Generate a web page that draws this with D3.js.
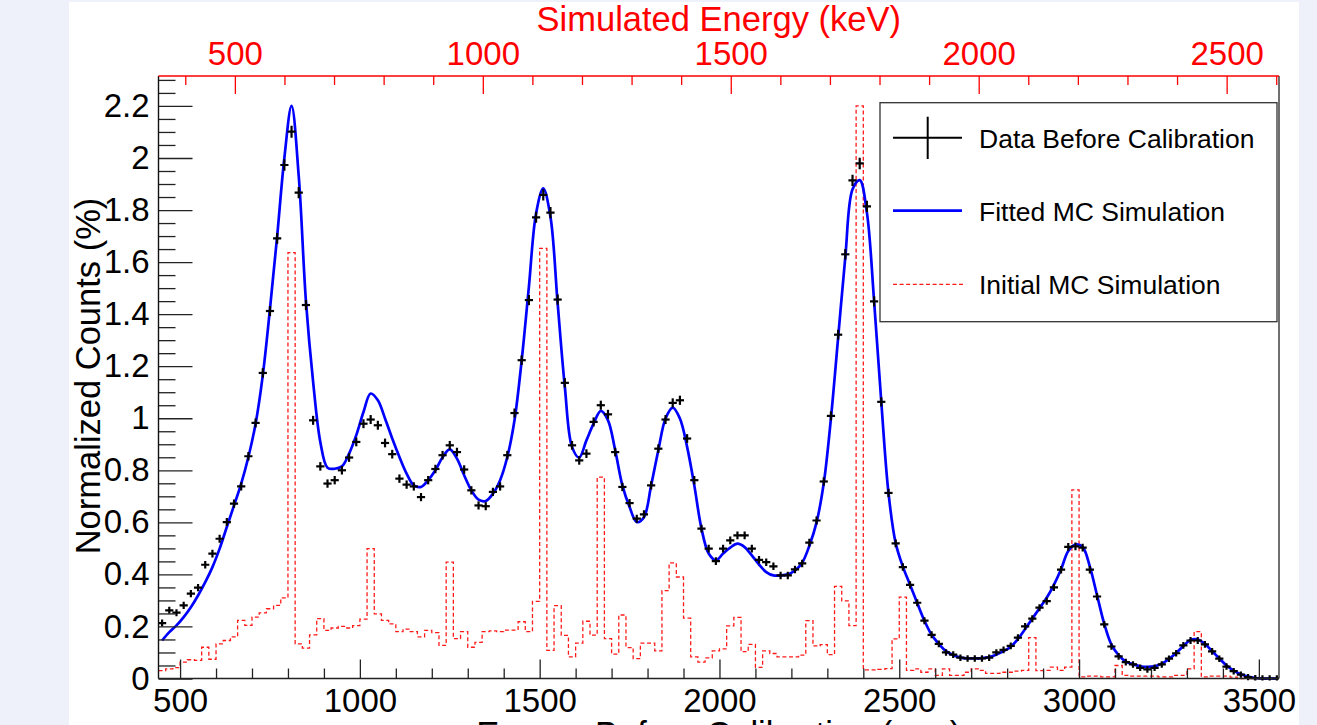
<!DOCTYPE html>
<html>
<head>
<meta charset="utf-8">
<script src="https://cdn.jsdelivr.net/npm/d3@7"></script>
<style>
  body { margin: 0; background: #eef1f9; }
  #chart { position: absolute; left: 0; top: 0; }
</style>
</head>
<body>
<div id="chart"></div>
<script>
// bins of 20 a.u. from 440 to 3560 (bin centres 450 ... 3550)
const binLow = 440;
const binWidth = 20;

// black crosses: data before calibration (%)
const dataCounts = [
  0.213, 0.262, 0.253, 0.281, 0.326, 0.349, 0.437, 0.48, 0.537, 0.601,
  0.672, 0.738, 0.854, 0.982, 1.174, 1.412, 1.691, 1.973, 2.101, 1.867,
  1.435, 0.992, 0.815, 0.749, 0.762, 0.8, 0.849, 0.909, 0.979, 0.995,
  0.973, 0.905, 0.862, 0.768, 0.745, 0.738, 0.697, 0.762, 0.805, 0.858,
  0.896, 0.87, 0.803, 0.723, 0.665, 0.662, 0.717, 0.738, 0.858, 1.02,
  1.223, 1.454, 1.772, 1.858, 1.79, 1.456, 1.136, 0.896, 0.838, 0.864,
  0.986, 1.05, 1.015, 0.87, 0.736, 0.674, 0.614, 0.631, 0.742, 0.883,
  0.995, 1.059, 1.069, 0.922, 0.762, 0.576, 0.499, 0.451, 0.499, 0.531,
  0.55, 0.55, 0.499, 0.456, 0.447, 0.431, 0.396, 0.396, 0.419, 0.442,
  0.522, 0.607, 0.757, 1.009, 1.321, 1.63, 1.914, 1.979, 1.814, 1.449,
  1.063, 0.713, 0.519, 0.428, 0.36, 0.291, 0.222, 0.168, 0.133, 0.1,
  0.092, 0.08, 0.077, 0.077, 0.077, 0.08, 0.1, 0.11, 0.125, 0.157,
  0.2, 0.23, 0.272, 0.297, 0.35, 0.418, 0.506, 0.508, 0.503, 0.418,
  0.315, 0.208, 0.123, 0.085, 0.063, 0.054, 0.041, 0.035, 0.041, 0.054,
  0.076, 0.097, 0.127, 0.146, 0.146, 0.131, 0.104, 0.076, 0.046, 0.028,
  0.015, 0.005, 0.001, 0, 0, 0
];

// blue line: fitted MC simulation (%)
const fitCounts = [
  0.146, 0.178, 0.204, 0.236, 0.274, 0.319, 0.37, 0.428, 0.499, 0.582,
  0.665, 0.749, 0.851, 0.979, 1.165, 1.42, 1.7, 2.0, 2.2, 1.93,
  1.45, 1.14, 0.909, 0.81, 0.806, 0.815, 0.864, 0.935, 1.024, 1.095,
  1.069, 0.999, 0.922, 0.851, 0.787, 0.742, 0.736, 0.762, 0.8, 0.85,
  0.88, 0.845, 0.781, 0.723, 0.687, 0.682, 0.71, 0.762, 0.851, 0.992,
  1.223, 1.505, 1.787, 1.883, 1.774, 1.441, 1.12, 0.89, 0.849, 0.915,
  0.979, 1.028, 0.992, 0.877, 0.742, 0.659, 0.601, 0.62, 0.742, 0.877,
  0.999, 1.041, 0.999, 0.89, 0.742, 0.576, 0.48, 0.454, 0.48, 0.503,
  0.518, 0.505, 0.473, 0.438, 0.409, 0.396, 0.396, 0.4, 0.415, 0.445,
  0.51, 0.6, 0.75, 1.0, 1.31, 1.62, 1.88, 1.915, 1.79, 1.45,
  1.063, 0.713, 0.52, 0.43, 0.36, 0.29, 0.222, 0.168, 0.133, 0.105,
  0.09, 0.08, 0.077, 0.077, 0.078, 0.082, 0.092, 0.105, 0.122, 0.152,
  0.19, 0.23, 0.27, 0.31, 0.36, 0.42, 0.49, 0.515, 0.505, 0.43,
  0.32, 0.21, 0.13, 0.09, 0.065, 0.055, 0.047, 0.045, 0.047, 0.057,
  0.075, 0.098, 0.125, 0.148, 0.15, 0.133, 0.105, 0.077, 0.05, 0.03,
  0.016, 0.007, 0.002, 0, 0, 0
];

// red dashed histogram: initial MC simulation (%)
const initialCounts = [
  0.03, 0.037, 0.042, 0.063, 0.072, 0.07, 0.12, 0.074, 0.133, 0.146,
  0.16, 0.223, 0.204, 0.236, 0.252, 0.268, 0.281, 0.31, 1.636, 0.133,
  0.117, 0.168, 0.23, 0.185, 0.194, 0.2, 0.194, 0.203, 0.228, 0.499,
  0.248, 0.223, 0.21, 0.18, 0.19, 0.18, 0.16, 0.185, 0.176, 0.127,
  0.447, 0.153, 0.18, 0.12, 0.139, 0.18, 0.183, 0.18, 0.186, 0.186,
  0.218, 0.18, 0.296, 1.653, 0.108, 0.28, 0.166, 0.083, 0.136, 0.22,
  0.167, 0.774, 0.153, 0.094, 0.244, 0.119, 0.076, 0.136, 0.136, 0.106,
  0.338, 0.444, 0.39, 0.232, 0.083, 0.063, 0.079, 0.106, 0.114, 0.202,
  0.235, 0.103, 0.131, 0.043, 0.106, 0.096, 0.083, 0.083, 0.083, 0.09,
  0.222, 0.125, 0.13, 0.092, 0.354, 0.298, 0.203, 2.2, 0.033, 0.033,
  0.035, 0.038, 0.152, 0.313, 0.031, 0.037, 0.024, 0.037, 0.012, 0.037,
  0.012, 0.012, 0.024, 0.037, 0.031, 0.02, 0.02, 0.024, 0.024, 0.028,
  0.031, 0.157, 0.03, 0.031, 0.044, 0.031, 0.044, 0.725, 0.006, 0.009,
  0.009, 0.006, 0.006, 0.05, 0.012, 0.009, 0.009, 0.009, 0.009, 0.006,
  0.006, 0.012, 0.012, 0.037, 0.18, 0.006, 0.009, 0.009, 0.009, 0.005,
  0, 0, 0, 0, 0, 0
];

// tick labels
const bottomTicks = [500, 1000, 1500, 2000, 2500, 3000, 3500];
const topTicks = [500, 1000, 1500, 2000, 2500];
const yTicks = [0, 0.2, 0.4, 0.6, 0.8, 1, 1.2, 1.4, 1.6, 1.8, 2, 2.2];

const legendItems = ["Data Before Calibration", "Fitted MC Simulation", "Initial MC Simulation"];

const width = 1317;
const height = 725;
const frame = { left: 158.5, right: 1279, top: 76, bottom: 678.5 };
const font = "'Liberation Sans', Arial, Helvetica, sans-serif";

const svg = d3.select("#chart")
    .append("svg")
    .attr("width", width)
    .attr("height", height);

// white canvas
svg.append("rect")
    .attr("x", 69).attr("y", 2)
    .attr("width", 1230).attr("height", 723)
    .attr("fill", "#fff");

const xScale = d3.scaleLinear().domain([440, 3556]).range([frame.left, frame.right]);
const xTopScale = d3.scaleLinear().domain([346, 2605.6]).range([frame.left, frame.right]);
const yScale = d3.scaleLinear().domain([0, 2.315]).range([frame.bottom, frame.top]);

const centers = dataCounts.map((d, i) => binLow + binWidth * (i + 0.5));

svg.append("clipPath").attr("id", "plotClip")
    .append("rect")
    .attr("x", frame.left).attr("y", frame.top)
    .attr("width", frame.right - frame.left)
    .attr("height", frame.bottom - frame.top + 2);

const plot = svg.append("g").attr("clip-path", "url(#plotClip)");

// red histogram (step)
const stepPts = initialCounts.map((v, i) => [binLow + binWidth * i, v]);
stepPts.push([binLow + binWidth * initialCounts.length, initialCounts[initialCounts.length - 1]]);

plot.append("path")
    .datum(stepPts)
    .attr("fill", "none")
    .attr("stroke", "#ff1a1a")
    .attr("stroke-width", 1.3)
    .attr("stroke-dasharray", "4,2.6")
    .attr("d", d3.line()
        .x(d => xScale(d[0]))
        .y(d => yScale(d[1]))
        .curve(d3.curveStepAfter));

// blue fitted curve
plot.append("path")
    .datum(fitCounts)
    .attr("fill", "none")
    .attr("stroke", "#0000ff")
    .attr("stroke-width", 2.7)
    .attr("d", d3.line()
        .x((d, i) => xScale(centers[i]))
        .y(d => yScale(d))
        .curve(d3.curveCatmullRom.alpha(0.5)));

// data crosses
const crosses = plot.append("g")
    .attr("stroke", "#000")
    .attr("stroke-width", 2.2);

crosses.selectAll(".hbar")
    .data(dataCounts)
    .enter()
    .append("line")
    .attr("x1", (d, i) => xScale(centers[i] - binWidth / 2) - 0.5)
    .attr("x2", (d, i) => xScale(centers[i] + binWidth / 2) + 0.5)
    .attr("y1", d => yScale(d))
    .attr("y2", d => yScale(d));

crosses.selectAll(".vbar")
    .data(dataCounts)
    .enter()
    .append("line")
    .attr("x1", (d, i) => xScale(centers[i]))
    .attr("x2", (d, i) => xScale(centers[i]))
    .attr("y1", d => yScale(d) - (3.2 + 1.3 * d))
    .attr("y2", d => yScale(d) + (3.2 + 1.3 * d));

// axes
function styleAxis(g, color, size) {
    g.select(".domain").remove();
    g.selectAll("line").attr("stroke", color).attr("stroke-width", 1.3);
    g.selectAll("text")
        .attr("fill", color)
        .style("font-family", font)
        .style("font-size", size + "px");
}

const minorBottom = d3.range(500, 3501, 100).filter(v => v % 500 !== 0);
const minorTop = d3.range(400, 2601, 100).filter(v => v % 500 !== 0);
const minorY = d3.range(0, 2.31, 0.05).filter((v, i) => i % 4 !== 0);

// bottom
svg.append("g")
    .attr("transform", `translate(0,${frame.bottom})`)
    .call(d3.axisBottom(xScale).tickValues(minorBottom).tickSize(-10).tickSizeOuter(0).tickFormat(""))
    .call(g => styleAxis(g, "#222", 33));
svg.append("g")
    .attr("transform", `translate(0,${frame.bottom})`)
    .call(d3.axisBottom(xScale).tickValues(bottomTicks).tickSize(-19).tickSizeOuter(0).tickPadding(10).tickFormat(d3.format("d")))
    .call(g => styleAxis(g, "#222", 33))
    .selectAll("text").attr("fill", "#000");

// top (red, keV)
svg.append("g")
    .attr("transform", `translate(0,${frame.top})`)
    .call(d3.axisTop(xTopScale).tickValues(minorTop).tickSize(-9).tickSizeOuter(0).tickFormat(""))
    .call(g => styleAxis(g, "#ff0000", 33));
svg.append("g")
    .attr("transform", `translate(0,${frame.top})`)
    .call(d3.axisTop(xTopScale).tickValues(topTicks).tickSize(-18).tickSizeOuter(0).tickPadding(11).tickFormat(d3.format("d")))
    .call(g => styleAxis(g, "#ff0000", 33));

// left
svg.append("g")
    .attr("transform", `translate(${frame.left},0)`)
    .call(d3.axisLeft(yScale).tickValues(minorY).tickSize(-17).tickSizeOuter(0).tickFormat(""))
    .call(g => styleAxis(g, "#222", 33));
svg.append("g")
    .attr("transform", `translate(${frame.left},0)`)
    .call(d3.axisLeft(yScale).tickValues(yTicks).tickSize(-34).tickSizeOuter(0).tickPadding(9).tickFormat(d => d3.format("~g")(d)))
    .call(g => styleAxis(g, "#222", 33))
    .selectAll("text").attr("fill", "#000");

// frame lines
svg.append("line")
    .attr("x1", frame.left).attr("x2", frame.left)
    .attr("y1", frame.top).attr("y2", frame.bottom)
    .attr("stroke", "#111").attr("stroke-width", 1.4);
svg.append("line")
    .attr("x1", frame.right).attr("x2", frame.right)
    .attr("y1", frame.top).attr("y2", frame.bottom)
    .attr("stroke", "#333").attr("stroke-width", 1.4);
svg.append("line")
    .attr("x1", frame.left).attr("x2", frame.right)
    .attr("y1", frame.bottom).attr("y2", frame.bottom)
    .attr("stroke", "#222").attr("stroke-width", 1.4);
svg.append("line")
    .attr("x1", frame.left).attr("x2", frame.right)
    .attr("y1", frame.top).attr("y2", frame.top)
    .attr("stroke", "#ff0000").attr("stroke-width", 1.4);

// titles
svg.append("text")
    .attr("x", (frame.left + frame.right) / 2)
    .attr("y", 30.5)
    .attr("text-anchor", "middle")
    .attr("fill", "#ff0000")
    .style("font-family", font)
    .style("font-size", "34.5px")
    .text("Simulated Energy (keV)");

// x title sits partly below the window edge, as in the original
svg.append("text")
    .attr("x", (frame.left + frame.right) / 2)
    .attr("y", 746)
    .attr("text-anchor", "middle")
    .attr("fill", "#000")
    .style("font-family", font)
    .style("font-size", "34.5px")
    .text("Energy Before Calibration (a.u.)");

svg.append("text")
    .attr("transform", "translate(100, 376) rotate(-90)")
    .attr("text-anchor", "middle")
    .attr("fill", "#000")
    .style("font-family", font)
    .style("font-size", "34.5px")
    .text("Normalized Counts (%)");

// legend
const legend = svg.append("g");
legend.append("rect")
    .attr("x", 880).attr("y", 102.7)
    .attr("width", 397).attr("height", 219)
    .attr("fill", "#fff")
    .attr("stroke", "#333")
    .attr("stroke-width", 1.3);

const rowY = [137.7, 210.7, 284.3];

legend.append("line")
    .attr("x1", 893).attr("x2", 962).attr("y1", rowY[0]).attr("y2", rowY[0])
    .attr("stroke", "#000").attr("stroke-width", 2);
legend.append("line")
    .attr("x1", 927.7).attr("x2", 927.7).attr("y1", 116.7).attr("y2", 159)
    .attr("stroke", "#000").attr("stroke-width", 2);
legend.append("line")
    .attr("x1", 893).attr("x2", 962).attr("y1", rowY[1]).attr("y2", rowY[1])
    .attr("stroke", "#0000ff").attr("stroke-width", 2.7);
legend.append("line")
    .attr("x1", 893).attr("x2", 965).attr("y1", rowY[2]).attr("y2", rowY[2])
    .attr("stroke", "#ff1a1a").attr("stroke-width", 1.3)
    .attr("stroke-dasharray", "4,2.6");

legend.selectAll(".label")
    .data(legendItems)
    .enter()
    .append("text")
    .attr("x", 979)
    .attr("y", (d, i) => rowY[i] + 9.8)
    .attr("fill", "#000")
    .style("font-family", font)
    .style("font-size", "26.5px")
    .text(d => d);
</script>
</body>
</html>
